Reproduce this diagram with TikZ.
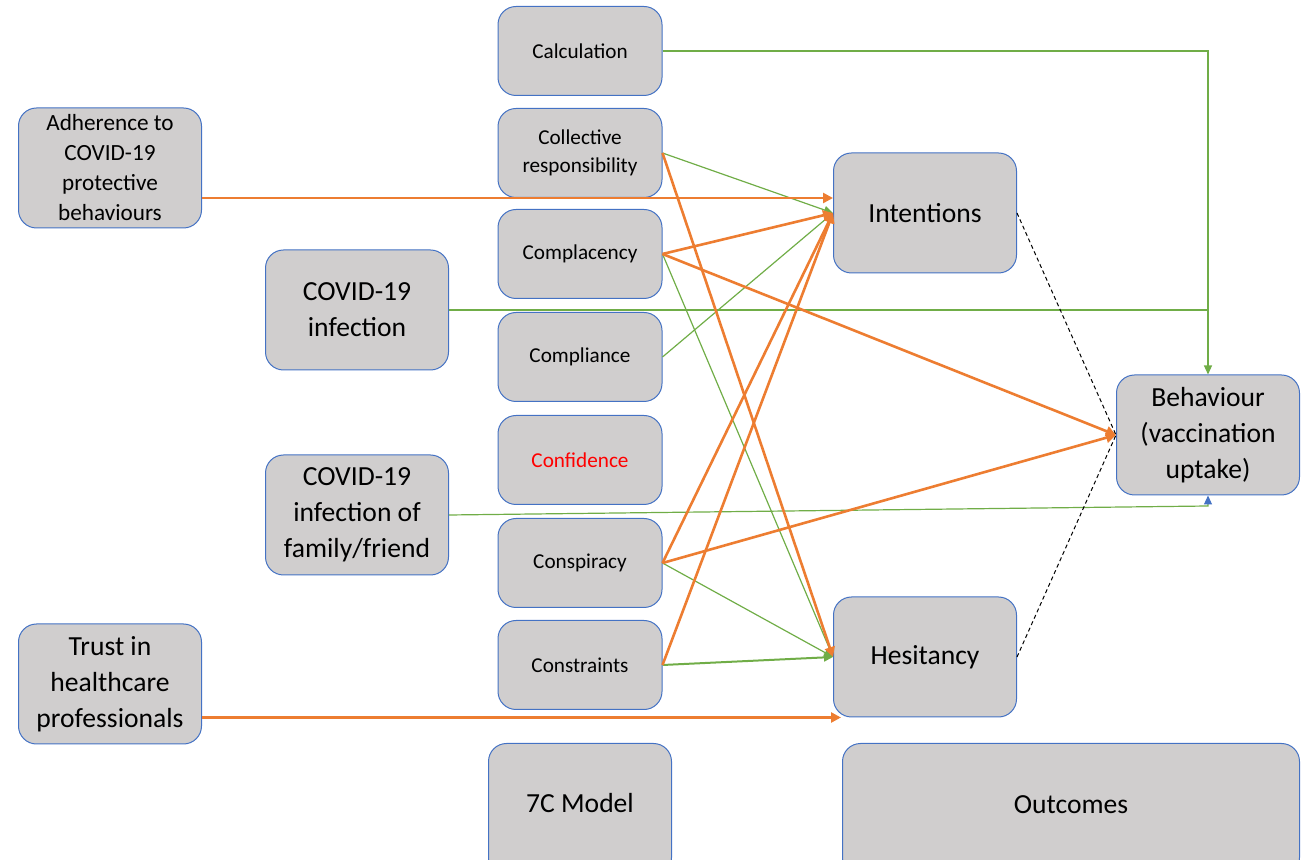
\documentclass[tikz,border=0pt]{standalone}
\usepackage{fontspec}
\setmainfont{Carlito}
\usetikzlibrary{arrows.meta,positioning,calc}
\definecolor{boxgray}{HTML}{D0CECE}
\definecolor{boxblue}{HTML}{4472C4}
\definecolor{grn}{HTML}{70AD47}
\definecolor{org}{HTML}{ED7D31}

\tikzset{
  cbox/.style={draw=boxblue, fill=boxgray, rounded corners=9pt, line width=0.5pt,
    minimum width=82pt, minimum height=44.5pt, inner sep=0pt, align=center,
    font=\fontsize{10.6}{14}\selectfont},
  bigbox/.style={cbox, minimum width=91.5pt, minimum height=60pt,
    font=\fontsize{13.8}{18}\selectfont},
  grnarr/.style={draw=grn, line width=0.6pt, -{Triangle[length=4.5pt,width=4pt]}},
  orgarr/.style={draw=org, line width=1.3pt, -{Triangle[length=5pt,width=5pt]}},
  dashline/.style={draw=black, line width=0.5pt, dash pattern=on 2pt off 1.5pt}
}

\begin{document}
\begin{tikzpicture}[x=0.5pt, y=-0.5pt]
  \useasboundingbox (0,0) rectangle (1307,860);

  % 7C boxes
  \node[cbox] (calc)   at (580,51)  {Calculation};
  \node[cbox] (coll)   at (580,153) {Collective\\responsibility};
  \node[cbox] (compl)  at (580,254) {Complacency};
  \node[cbox] (compli) at (580,357) {Compliance};
  \node[cbox, text=red] (conf) at (580,460) {Confidence};
  \node[cbox] (consp)  at (580,563) {Conspiracy};
  \node[cbox] (constr) at (580,665) {Constraints};

  % predictors
  \node[bigbox, font=\fontsize{11.6}{15}\selectfont] (adher) at (110,168)
    {Adherence to\\COVID-19\\protective\\behaviours};
  \node[bigbox] (infect)    at (357,310) {COVID-19\\infection};
  \node[bigbox] (infectfam) at (357,515) {COVID-19\\infection of\\family/friend};
  \node[bigbox] (trust)     at (110,684) {Trust in\\healthcare\\professionals};

  % outcomes
  \node[bigbox] (intent) at (925,213)  {Intentions};
  \node[bigbox] (hesit)  at (925,657)  {Hesitancy};
  \node[bigbox] (behav)  at (1208,435) {Behaviour\\(vaccination\\uptake)};

  % labels at the bottom
  \node[bigbox, minimum width=91.5pt, minimum height=66pt, anchor=north] (model) at (580,743) {};
  \node at (580,803) [font=\fontsize{13.8}{18}\selectfont] {7C Model};
  \node[bigbox, minimum width=228.5pt, minimum height=66pt, anchor=north] (outcomes) at (1071,743) {};
  \node at (1071,805) [font=\fontsize{13.8}{18}\selectfont] {Outcomes};

  % green paths
  \draw[grnarr] (calc.east) -| (behav.north);
  \draw[draw=grn, line width=0.6pt] (infect.east) -- (infect.east -| behav.north);
  \coordinate (famturn) at (1208,506);
  \draw[draw=grn, line width=0.6pt, -{Triangle[length=4.5pt,width=4pt,color=boxblue]}]
    (infectfam.east) -- (famturn) -- (behav.south);
  \draw[grnarr] (coll.east) -- (intent.west);
  \draw[grnarr] (compli.east) -- (intent.west);
  \draw[grnarr] (compl.east) -- (hesit.west);
  \draw[grnarr] (consp.east) -- (hesit.west);
  \draw[grnarr, line width=1pt] (constr.east) -- (hesit.west);

  % orange paths
  \coordinate (adhend) at ([yshift=7.5pt]intent.west);
  \draw[orgarr] (adher.east |- adhend) -- (adhend);
  \draw[orgarr] (coll.east) -- (hesit.west);
  \draw[orgarr] (compl.east) -- (intent.west);
  \draw[orgarr] (compl.east) -- (behav.west);
  \draw[orgarr] (consp.east) -- (intent.west);
  \draw[orgarr] (consp.east) -- (behav.west);
  \draw[orgarr] (constr.east) -- (intent.west);
  \coordinate (trustend) at ([xshift=4pt]hesit.south west);
  \draw[orgarr] (trust.east |- trustend) -- (trustend);

  % dashed links
  \draw[dashline] (intent.east) -- (behav.west);
  \draw[dashline] (hesit.east) -- (behav.west);
\end{tikzpicture}
\end{document}
